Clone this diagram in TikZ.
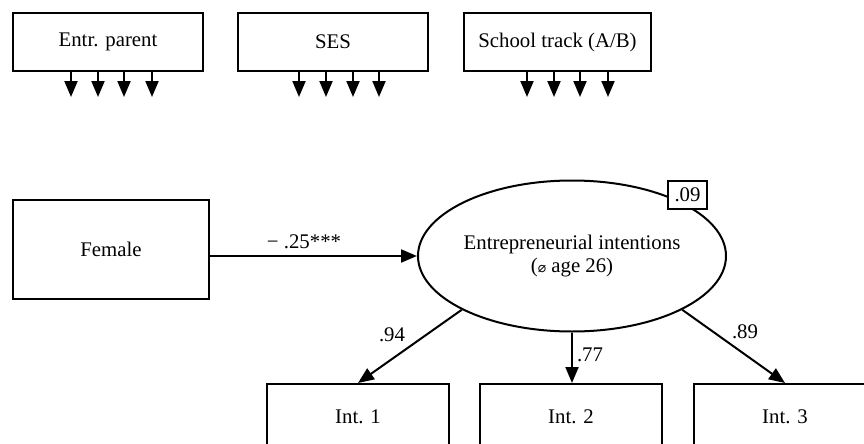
\documentclass[tikz,border=0pt]{standalone}
\usepackage{fontspec}
\setmainfont{Liberation Serif}
\newfontfamily\symfont{DejaVu Sans}
\usetikzlibrary{arrows.meta,shapes.geometric}

\tikzset{
  box/.style={draw, line width=2pt, rectangle, inner sep=0pt, align=center},
  latent/.style={draw, line width=2pt, ellipse, inner sep=0pt, align=center,
    minimum width=308pt, minimum height=151pt},
  arr/.style={line width=2pt, -{Triangle[width=13pt,length=16pt]}},
  coef/.style={inner sep=0pt},
}

\begin{document}
\begin{tikzpicture}[x=1pt, y=-1pt, font=\fontsize{20.8pt}{24pt}\selectfont]
  \clip (0,0) rectangle (864,444);
  \fill[white] (0,0) rectangle (864,444);

  % control variables
  \node[box, minimum width=190pt, minimum height=58pt] (ep)  at (108,42)   {Entr. parent};
  \node[box, minimum width=190pt, minimum height=58pt] (ses) at (333,42)   {SES};
  \node[box, minimum width=187pt, minimum height=58pt] (st)  at (557.5,42) {School track (A/B)};

  % short arrows from the controls
  \foreach \x in {71,98,124,152} {
    \coordinate (ep\x) at (\x,97);
    \draw[arr] (ep.south -| ep\x) -- (ep\x);
  }
  \foreach \x in {299,326,353,379} {
    \coordinate (ses\x) at (\x,97);
    \draw[arr] (ses.south -| ses\x) -- (ses\x);
  }
  \foreach \x in {527,554,580,608} {
    \coordinate (st\x) at (\x,97);
    \draw[arr] (st.south -| st\x) -- (st\x);
  }

  % predictor and latent construct
  \node[box, minimum width=196pt, minimum height=99pt] (fem) at (111,249.5) {Female};
  \node[latent] (ei) at (572,256)
    {Entrepreneurial intentions\\[-1pt]({\symfont\fontsize{14pt}{16pt}\selectfont ⌀} age 26)};
  \node[box, fill=white, minimum width=39pt, minimum height=28pt] (r2) at (687.5,195) {.09};

  \draw[arr] (ei.west -| fem.east) -- (ei.west);
  \node[coef] (cfem) at (304,242) {− .25***};

  % indicators
  \node[box, minimum width=182pt, minimum height=66pt] (i1) at (358,417) {Int. 1};
  \node[box, minimum width=182pt, minimum height=66pt] (i2) at (571,417) {Int. 2};
  \node[box, minimum width=182pt, minimum height=66pt] (i3) at (785,417) {Int. 3};

  \draw[arr] (ei.206) -- (i1.north);
  \draw[arr] (ei.south) -- (ei.south |- i2.north);
  \draw[arr] (ei.334) -- (i3.north);

  \node[coef] (c1) at (392,335) {.94};
  \node[coef] (c2) at (590,355) {.77};
  \node[coef] (c3) at (745,332) {.89};
\end{tikzpicture}
\end{document}
